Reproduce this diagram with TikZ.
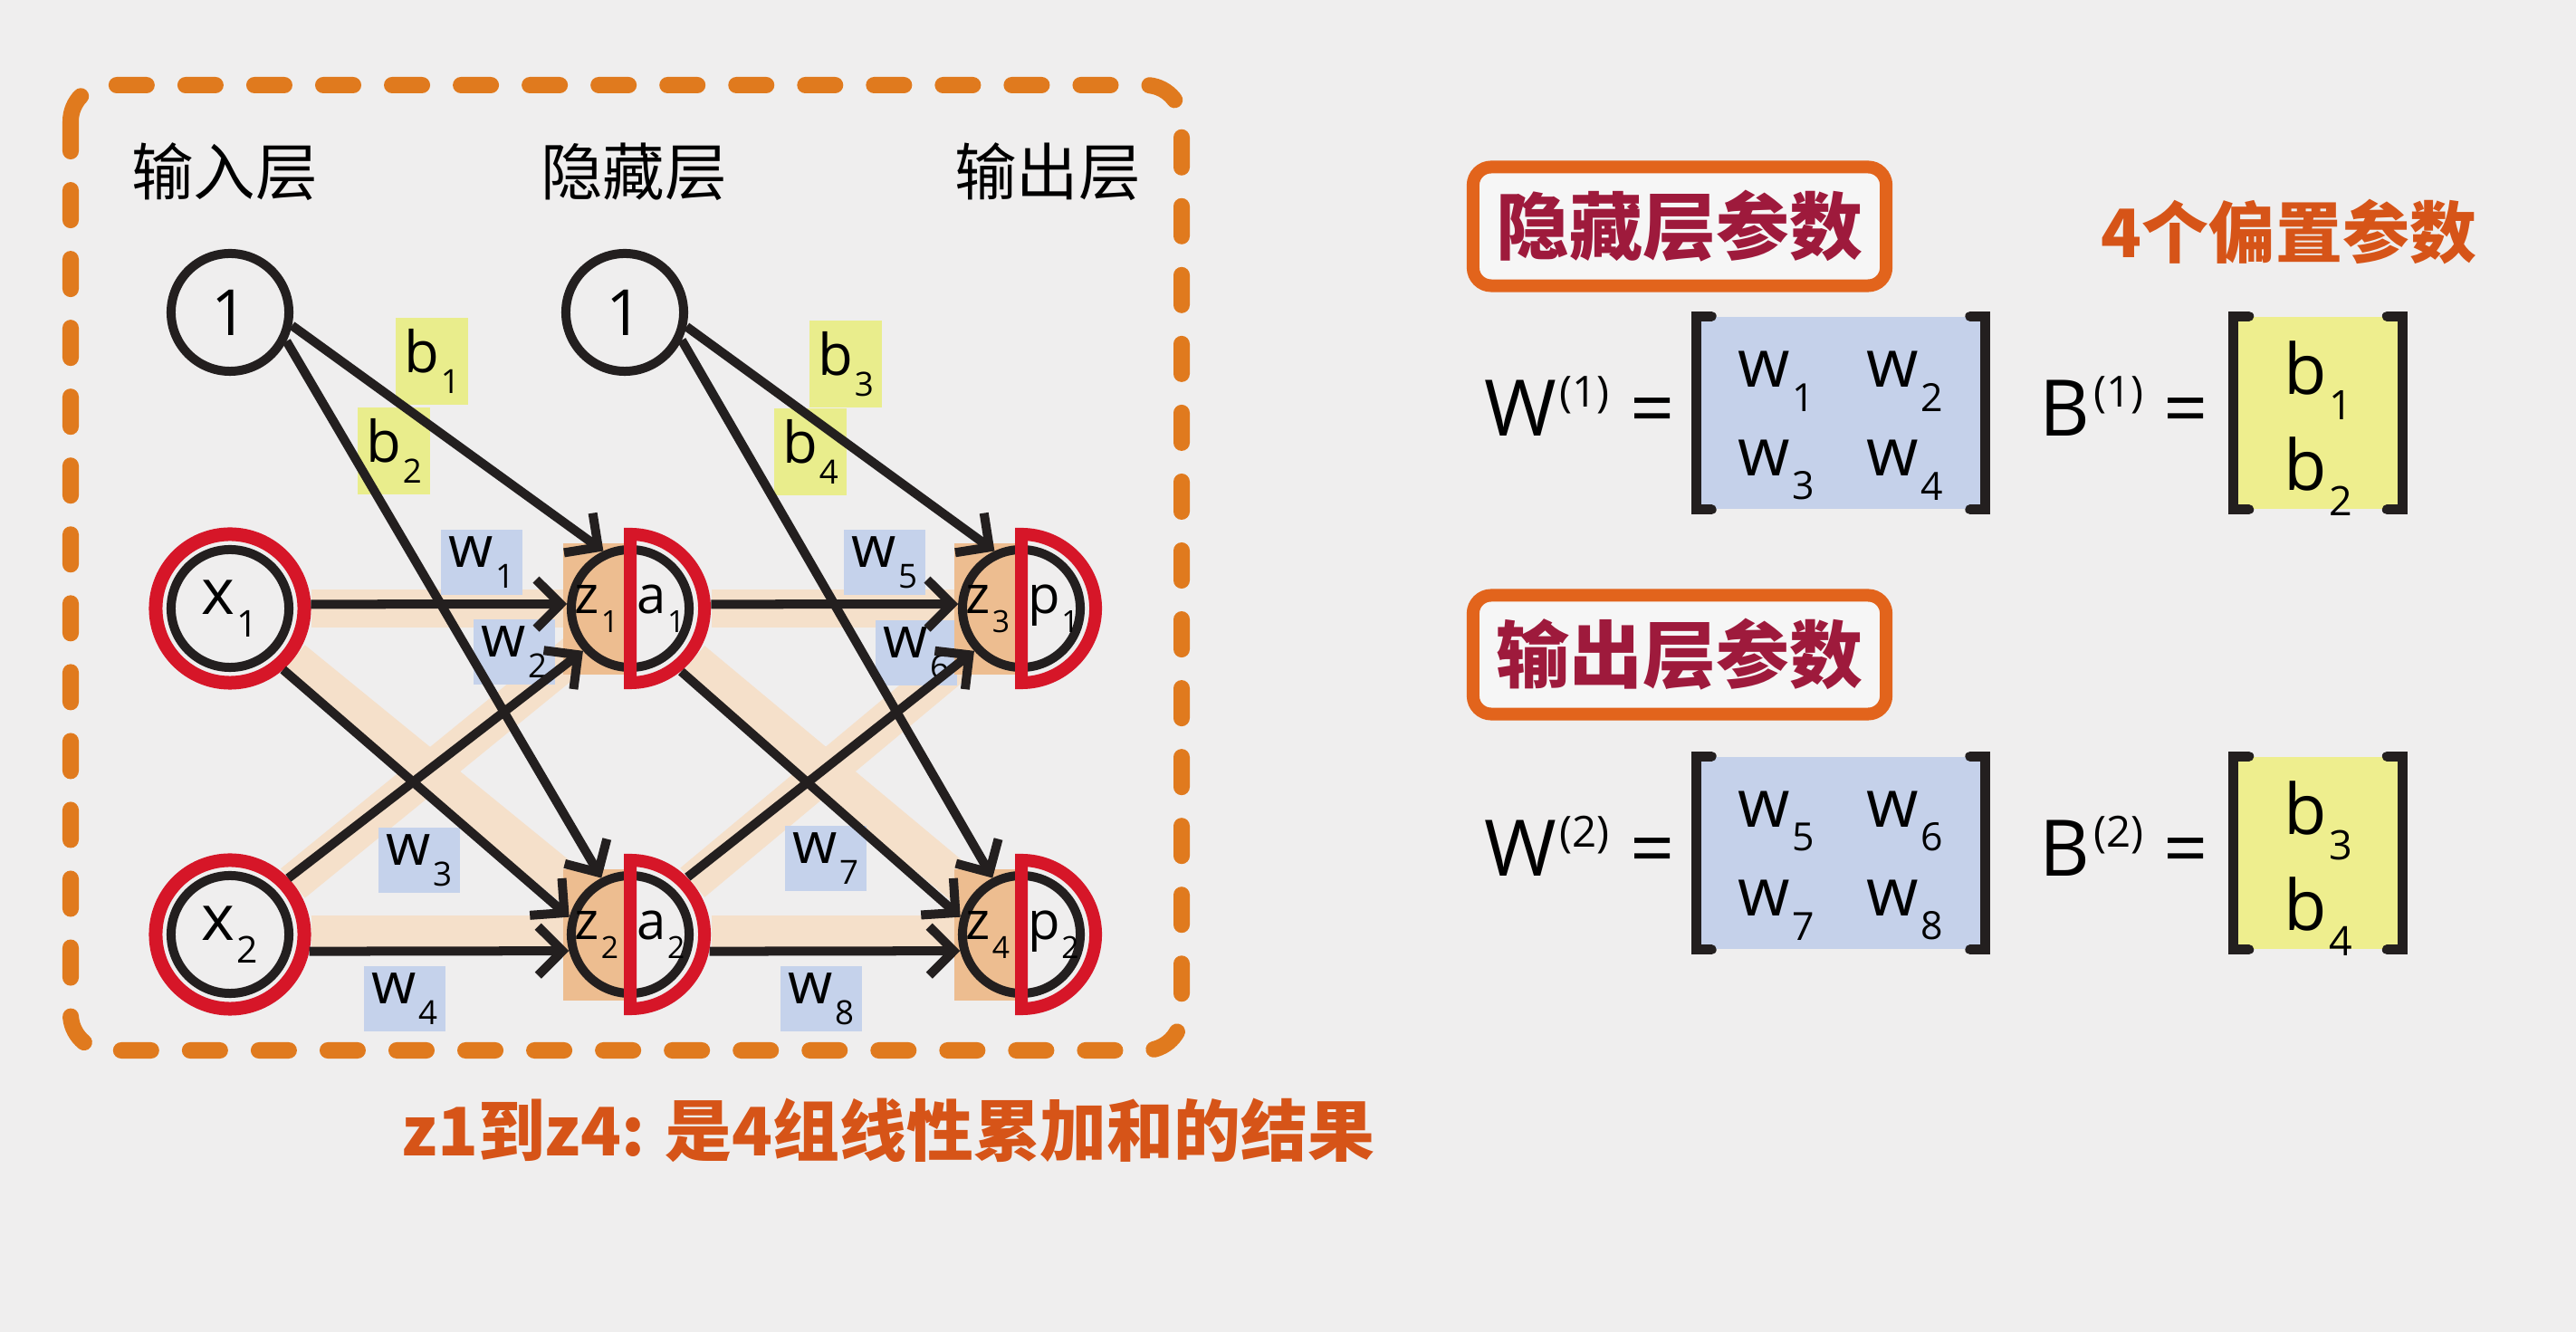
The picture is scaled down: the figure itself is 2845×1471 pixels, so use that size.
\documentclass[tikz,border=0pt]{standalone}
\usepackage{fontspec}
\usepackage{graphicx}
\setmainfont{Open Sans}
\newfontfamily\cjk{Noto Sans CJK SC}
\usetikzlibrary{arrows.meta,positioning}

\definecolor{bgcol}{RGB}{239,238,238}
\definecolor{bandcol}{RGB}{245,224,202}
\definecolor{zcol}{RGB}{237,189,144}
\definecolor{ringred}{RGB}{214,22,40}
\definecolor{lineblk}{RGB}{35,31,31}
\definecolor{wblue}{RGB}{197,210,235}
\definecolor{byel}{RGB}{233,237,140}
\definecolor{matblue}{RGB}{197,209,234}
\definecolor{matyel}{RGB}{238,238,142}
\definecolor{frameorg}{RGB}{224,122,30}
\definecolor{boxorg}{RGB}{226,100,28}
\definecolor{headred}{RGB}{158,26,60}
\definecolor{noteorg}{RGB}{214,84,24}

\newcommand{\idx}[1]{\kern0.03em\raisebox{-0.36em}{\scalebox{0.58}{#1}}}
\newcommand{\sps}[1]{\kern0.04em\raisebox{0.36em}{\scalebox{0.55}{#1}}}
\newcommand{\zpair}[2]{\llap{#1\kern0.13cm}\rlap{\kern0.07cm #2}}

\pgfdeclarelayer{back}
\pgfdeclarelayer{under}
\pgfsetlayers{back,under,main}

\begin{document}
\begin{tikzpicture}[x=0.01cm, y=-0.01cm,
        title/.style={font=\cjk\fontsize{19.5}{22}\selectfont},
        bias/.style={circle, draw=lineblk, line width=0.1cm, fill=bgcol,
                     minimum size=1.3cm, inner sep=0pt, font=\fontsize{20}{24}\selectfont},
        input/.style={circle, draw=ringred, line width=0.15cm, fill=bgcol,
                      minimum size=1.64cm, inner sep=0pt, font=\fontsize{20}{24}\selectfont,
                      path picture={\draw[lineblk, line width=0.1cm]
                        (path picture bounding box.center) circle (0.65cm);}},
        sum/.style={circle, draw=lineblk, line width=0.1cm, minimum size=1.3cm,
                    inner sep=0pt, font=\fontsize{16.5}{18}\selectfont,
                    path picture={\fill[zcol] (path picture bounding box.south west)
                      rectangle (path picture bounding box.north);}},
        act/.style={circle, minimum size=1.64cm, inner sep=0pt, outer sep=0.075cm},
        dring/.style={draw=ringred, line width=0.14cm, line join=miter},
        wire/.style={draw=lineblk, line width=0.1cm,
                     -{Straight Barb[length=0.27cm, width=0.54cm]}},
        band/.style={draw=bandcol, line width=0.42cm},
        wlbl/.style={fill=wblue, minimum width=0.9cm, minimum height=0.72cm,
                     inner sep=0pt, font=\fontsize{18}{20}\selectfont},
        blbl/.style={fill=byel, minimum width=0.8cm, minimum height=0.95cm,
                     inner sep=0pt, font=\fontsize{18}{20}\selectfont},
        frame/.style={draw=frameorg, line width=0.18cm, rounded corners=0.4cm,
                      dash pattern=on 0.33cm off 0.43cm, line cap=round},
        head/.style={draw=boxorg, line width=0.14cm, rounded corners=0.2cm,
                     fill=white!45!bgcol, minimum width=4.56cm, minimum height=1.31cm,
                     text=headred, font=\cjk\bfseries\fontsize{23}{26}\selectfont},
        note/.style={text=noteorg, font=\cjk\bfseries\fontsize{21}{24}\selectfont},
        eq/.style={inner sep=0pt, font=\fontsize{24.5}{28}\selectfont},
        wmat/.style={fill=matblue, minimum width=3.18cm, minimum height=2.12cm, inner sep=0pt},
        bmat/.style={fill=matyel, minimum width=1.85cm, minimum height=2.12cm, inner sep=0pt},
        ment/.style={inner sep=0pt, font=\fontsize{21}{24}\selectfont},
        brk/.style={draw=lineblk, line width=0.11cm, line cap=round}]

    \begin{pgfonlayer}{back}
        \fill[bgcol] (0,0) rectangle (2845,1471);
    \end{pgfonlayer}
    \useasboundingbox (0,0) rectangle (2845,1471);

    % network
    \node[title] (tin)  at (248,190)  {输入层};
    \node[title] (thid) at (700,190)  {隐藏层};
    \node[title] (tout) at (1157,190) {输出层};

    \node[bias]  (one1) at (254,345) {1};
    \node[bias]  (one2) at (690,345) {1};
    \node[input] (x1) at (254,672)  {x\idx{1}};
    \node[input] (x2) at (254,1032) {x\idx{2}};

    \node[sum] (z1) at (696,672)   {\zpair{z\idx{1}}{a\idx{1}}};
    \node[act] (a1) at (z1) {};
    \node[sum] (z2) at (696,1032)  {\zpair{z\idx{2}}{a\idx{2}}};
    \node[act] (a2) at (z2) {};
    \node[sum] (z3) at (1128,672)  {\zpair{z\idx{3}}{p\idx{1}}};
    \node[act] (p1) at (z3) {};
    \node[sum] (z4) at (1128,1032) {\zpair{z\idx{4}}{p\idx{2}}};
    \node[act] (p2) at (z4) {};

    \begin{pgfonlayer}{under}
        \foreach \s/\t in {x1/z1,x1/z2,x2/z1,x2/z2,a1/z3,a1/z4,a2/z3,a2/z4}
            \draw[band] (\s) -- (\t);
        \node[blbl] (lb1) at (477,399)  {b\idx{1}};
        \node[blbl] (lb2) at (435,498)  {b\idx{2}};
        \node[blbl] (lb3) at (934,402)  {b\idx{3}};
        \node[blbl] (lb4) at (895,499)  {b\idx{4}};
        \node[wlbl] (lw1) at (532,621)  {w\idx{1}};
        \node[wlbl] (lw2) at (568,720)  {w\idx{2}};
        \node[wlbl] (lw3) at (463,950)  {w\idx{3}};
        \node[wlbl] (lw4) at (447,1103) {w\idx{4}};
        \node[wlbl] (lw5) at (977,621)  {w\idx{5}};
        \node[wlbl] (lw6) at (1012,721) {w\idx{6}};
        \node[wlbl] (lw7) at (912,948)  {w\idx{7}};
        \node[wlbl] (lw8) at (907,1103) {w\idx{8}};
        \foreach \n in {z1,z2,z3,z4}
            \fill[zcol] ([shift={(-0.74cm,0.72cm)}]\n.center)
                rectangle ([shift={(-0.06cm,-0.73cm)}]\n.center);
        \begin{scope}[x=1cm, y=1cm]
            \foreach \n in {a1,a2,p1,p2}
                \fill[bgcol] (\n.center) ++(0,0.82) arc[start angle=90, end angle=-90, radius=0.82] -- cycle;
        \end{scope}
    \end{pgfonlayer}

    \draw[wire] (one1.-12) -- (z1.115);
    \draw[wire] (one1.-27) -- (z2.117);
    \draw[wire] (one2.-13) -- (z3.115);
    \draw[wire] (one2.-26) -- (z4.117);
    \draw[wire] (x1.3)   -- (z1.176);
    \draw[wire] (x1.-49) -- (z2.164);
    \draw[wire] (x2.44)  -- (z1.222);
    \draw[wire] (x2.-12) -- (z2.195);
    \draw[wire] (a1.3)   -- (z3.176);
    \draw[wire] (a1.-51) -- (z4.164);
    \draw[wire] (a2.45)  -- (z3.222);
    \draw[wire] (a2.-12) -- (z4.195);

    \begin{scope}[x=1cm, y=1cm]
        \foreach \n in {a1,a2,p1,p2}
            \draw[dring] (\n.center) ++(0,0.82) arc[start angle=90, end angle=-90, radius=0.82] -- cycle;
    \end{scope}

    \draw[frame] (78,94) rectangle (1305,1160);

    % parameters
    \node[head] (hpar) at (1855,250) {隐藏层参数};
    \node[note] (bnote) at (2528,256) {4个偏置参数};
    \node[head] (opar) at (1855,723) {输出层参数};

    \node[wmat] (W1) at (2033,456) {};
    \node[bmat] (B1) at (2560,456) {};
    \node[wmat] (W2) at (2033,942) {};
    \node[bmat] (B2) at (2560,942) {};
    \node[eq, left=0.23cm of W1, anchor=base east, yshift=-0.25cm] (W1eq) {W\sps{(1)} =};
    \node[eq, left=0.27cm of B1, anchor=base east, yshift=-0.25cm] (B1eq) {B\sps{(1)} =};
    \node[eq, left=0.23cm of W2, anchor=base east, yshift=-0.25cm] (W2eq) {W\sps{(2)} =};
    \node[eq, left=0.27cm of B2, anchor=base east, yshift=-0.25cm] (B2eq) {B\sps{(2)} =};

    \foreach \m/\i/\j/\k/\l in {W1/1/2/3/4, W2/5/6/7/8} {
        \node[ment] (\m e\i) at ([shift={(-0.71cm,0.35cm)}]\m.center)  {w\idx{\i}};
        \node[ment] (\m e\j) at ([shift={(0.71cm,0.35cm)}]\m.center)   {w\idx{\j}};
        \node[ment] (\m e\k) at ([shift={(-0.71cm,-0.63cm)}]\m.center) {w\idx{\k}};
        \node[ment] (\m e\l) at ([shift={(0.71cm,-0.63cm)}]\m.center)  {w\idx{\l}};
    }
    \foreach \m/\i/\j in {B1/1/2, B2/3/4} {
        \node[ment, font=\fontsize{22}{24}\selectfont] (\m e\i) at ([yshift=0.36cm]\m.center) {b\idx{\i}};
        \node[ment, font=\fontsize{22}{24}\selectfont] (\m e\j) at ([yshift=-0.70cm]\m.center) {b\idx{\j}};
    }
    \foreach \m in {W1,B1,W2,B2} {
        \draw[brk] ([xshift=0.17cm]\m.north west) -- (\m.north west)
            -- (\m.south west) -- ([xshift=0.17cm]\m.south west);
        \draw[brk] ([xshift=-0.17cm]\m.north east) -- (\m.north east)
            -- (\m.south east) -- ([xshift=-0.17cm]\m.south east);
    }

    \node[note] (snote) at (981,1248) {z1到z4: 是4组线性累加和的结果};
\end{tikzpicture}
\end{document}
